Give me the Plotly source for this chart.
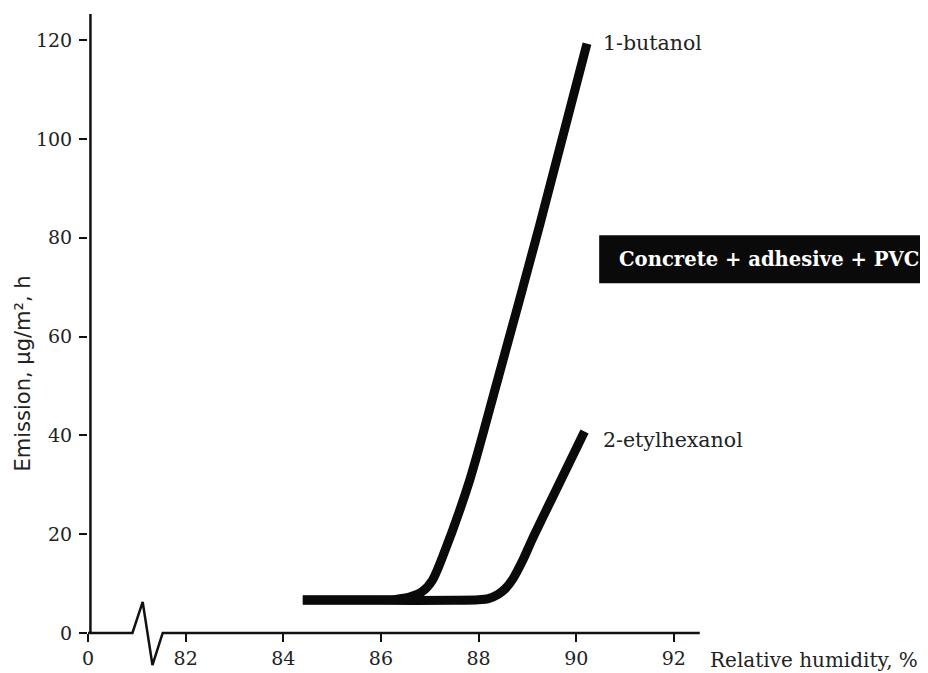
import plotly.graph_objects as go

# ---- data ----
x_tick_vals = [80, 82, 84, 86, 88, 90, 92]
x_tick_text = ["0", "82", "84", "86", "88", "90", "92"]
y_tick_vals = [0, 20, 40, 60, 80, 100, 120]

butanol_x = [84.4, 85.5, 86.3, 86.6, 86.85, 87.05, 87.27, 87.82, 88.37, 89.25, 90.22]
butanol_y = [6.7, 6.7, 6.8, 7.3, 8.4, 10.6, 15.6, 31.0, 50.5, 82.5, 119.3]

ethylhex_x = [84.4, 86.0, 87.5, 88.0, 88.2, 88.4, 88.55, 88.7, 88.9, 89.11, 89.6, 90.17]
ethylhex_y = [6.6, 6.6, 6.6, 6.7, 6.95, 7.8, 9.0, 10.9, 14.6, 19.2, 29.2, 40.8]

# axis decorations (broken x axis between 0 and 82)
xaxis_line_x = [80, 80.91, 81.12, 81.32, 81.53, 92.53]
xaxis_line_y = [0, 0, 6.3, -6.5, 0, 0]
yaxis_line_x = [80.05, 80.05]
yaxis_line_y = [0, 125.3]

Y_MIN, Y_MAX = -7.5, 125.5
X_MIN, X_MAX = 80.0, 97.205

serif = "DejaVu Serif"

fig = go.Figure()

fig.add_trace(go.Scatter(x=xaxis_line_x, y=xaxis_line_y, mode="lines",
                         line=dict(color="#111", width=2.5), hoverinfo="skip", showlegend=False))
fig.add_trace(go.Scatter(x=yaxis_line_x, y=yaxis_line_y, mode="lines",
                         line=dict(color="#111", width=2.5), hoverinfo="skip", showlegend=False))

fig.add_trace(go.Scatter(x=ethylhex_x, y=ethylhex_y, mode="lines", name="2-etylhexanol",
                         line=dict(color="#0a0a0a", width=9, shape="spline", smoothing=0.8),
                         showlegend=False))
fig.add_trace(go.Scatter(x=butanol_x, y=butanol_y, mode="lines", name="1-butanol",
                         line=dict(color="#0a0a0a", width=9, shape="spline", smoothing=0.8),
                         showlegend=False))

# black label box
fig.add_shape(type="rect", xref="x", yref="y", x0=90.47, x1=X_MAX + 1, y0=70.8, y1=80.5,
              fillcolor="#0a0a0a", line=dict(width=0), layer="above")

annotations = [
    dict(x=90.5, y=119.4, text="1-butanol", xanchor="left", yanchor="middle",
         font=dict(family=serif, size=20.5, color="#222")),
    dict(x=90.5, y=39.1, text="2-etylhexanol", xanchor="left", yanchor="middle",
         font=dict(family=serif, size=20.5, color="#222")),
    dict(x=90.83, y=75.7, text="<b>Concrete + adhesive + PVC</b>", xanchor="left", yanchor="middle",
         font=dict(family=serif, size=19.6, color="white")),
    dict(x=92.7, y=-5.5, text="Relative humidity, %", xanchor="left", yanchor="middle",
         font=dict(family=serif, size=20, color="#222")),
    dict(xref="paper", x=-0.077, y=52.6, text="Emission, µg/m², h", textangle=-90,
         xanchor="center", yanchor="middle",
         font=dict(family="DejaVu Sans", size=21, color="#222")),
]
for a in annotations:
    a.setdefault("xref", "x")
    a.setdefault("yref", "y")
    a["showarrow"] = False
fig.update_layout(annotations=annotations)

# page body has an 8px margin: plot area placed to line up with the 928x673 window
fig.update_layout(
    width=928, height=665,
    margin=dict(l=80, r=8, t=5, b=3, autoexpand=False),
    paper_bgcolor="white", plot_bgcolor="white",
    xaxis=dict(range=[X_MIN, X_MAX], tickvals=x_tick_vals, ticktext=x_tick_text,
               ticks="outside", ticklen=8, tickwidth=2, tickcolor="#111",
               showline=False, showgrid=False, zeroline=False,
               anchor="free", position=(0 - Y_MIN) / (Y_MAX - Y_MIN),
               tickfont=dict(family=serif, size=19, color="#222")),
    yaxis=dict(range=[Y_MIN, Y_MAX], tickvals=y_tick_vals,
               ticks="outside", ticklen=8, tickwidth=2, tickcolor="#111",
               showline=False, showgrid=False, zeroline=False,
               ticklabelstandoff=3,
               tickfont=dict(family=serif, size=19, color="#222")),
)

fig.write_html("out.html")
